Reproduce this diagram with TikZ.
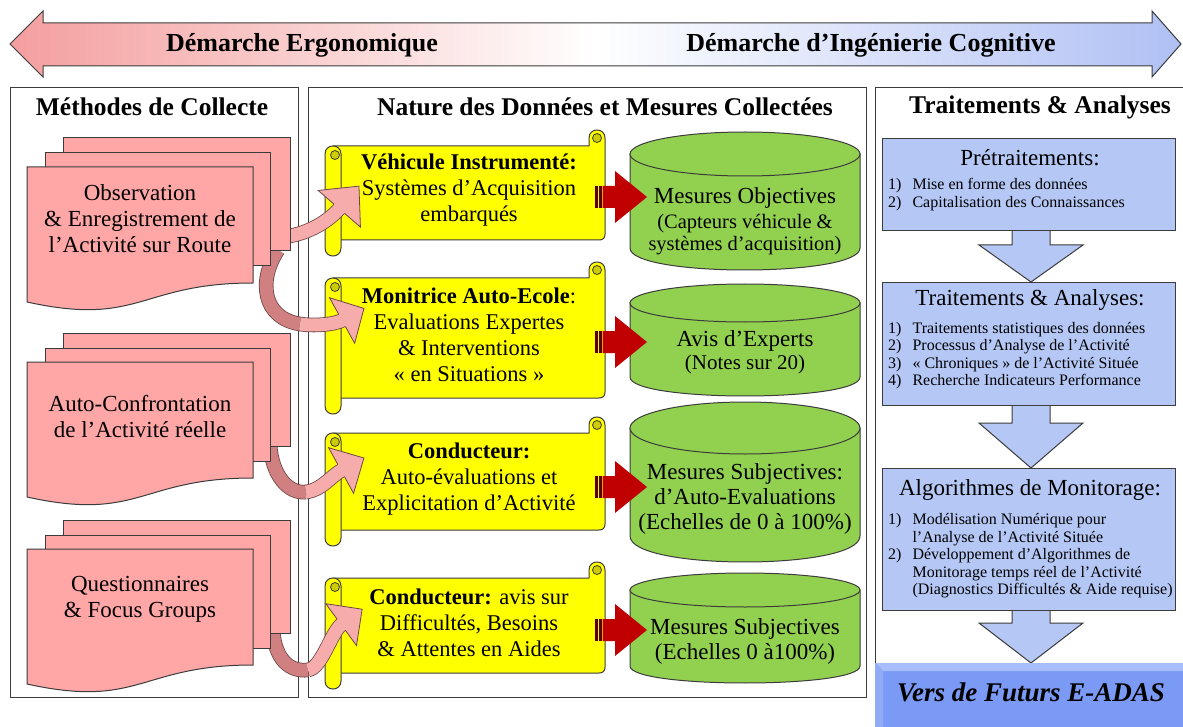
\documentclass[tikz,border=0pt]{standalone}
\usepackage{fontspec}
\setmainfont{Liberation Serif}
\usetikzlibrary{decorations.markings}
\definecolor{docpink}{RGB}{255,166,166}
\definecolor{arrpink}{RGB}{247,172,172}
\definecolor{darkpink}{RGB}{208,128,128}
\definecolor{arrline}{RGB}{110,70,70}
\definecolor{scrollyellow}{RGB}{255,255,0}
\definecolor{curlyellow}{RGB}{204,204,0}
\definecolor{cylgreen}{RGB}{146,208,80}
\definecolor{boxblue}{RGB}{180,199,245}
\definecolor{adasblue}{RGB}{122,154,245}
\definecolor{adaslight}{RGB}{168,190,250}
\definecolor{adasmid}{RGB}{145,172,247}
\definecolor{redarr}{RGB}{192,0,0}
\definecolor{stripe}{RGB}{90,0,0}
\definecolor{linegray}{RGB}{60,60,60}
\definecolor{toppink}{RGB}{244,158,158}
\definecolor{topblue}{RGB}{176,192,244}

\newcommand\docstack[1]{%
  \draw[docst] (63,{#1-29}) rectangle (290,{#1+84});
  \draw[docst] (45,{#1-14}) rectangle (270,{#1+99});
  \draw[docst] (27,#1) -- (253,#1) -- (253,{#1+116}) .. controls (140,{#1+116}) and (140,{#1+160}) .. (27,{#1+135}) -- cycle;
}
\newcommand\scrollshape[2]{%
  \draw[scrollst] (333,#1) -- (589,#1) -- (589,{#1-8}) .. controls (589,{#1-18.7}) and (605,{#1-18.7}) .. (605,{#1-8}) -- (605,{#2-6}) .. controls (605,{#2-2}) and (603,#2) .. (599,#2) -- (333,#2) -- cycle;
  \draw[curlst] (597,{#1-8}) circle (4.5pt);
  \draw[scrollst] (325,{#1+8}) .. controls (325,{#1-2.7}) and (341,{#1-2.7}) .. (341,{#1+8}) -- (341,{#2+8}) .. controls (341,{#2+18.7}) and (325,{#2+18.7}) .. (325,{#2+8}) -- cycle;
  \draw[curlst] (335,{#1+9}) circle (4.5pt);
}
\newcommand\cylshape[3]{%
  \draw[cylst] (630,#1) -- (630,#2) .. controls (630,{#2+1.333*#3}) and (860,{#2+1.333*#3}) .. (860,#2) -- (860,#1) -- cycle;
  \draw[cylst] (745,#1) ellipse [x radius=115pt, y radius=#3pt];
}
\newcommand\redarrow[1]{%
  \fill[stripe] (595,{#1-11}) rectangle (597.5,{#1+11});
  \fill[stripe] (598.5,{#1-11}) rectangle (601.5,{#1+11});
  \fill[redarr] (602.5,{#1-11}) -- (615,{#1-11}) -- (615,{#1-26}) -- (647,#1) -- (615,{#1+26}) -- (615,{#1+11}) -- (602.5,{#1+11}) -- cycle;
}
\newcommand\bluearrow[3]{%
  \draw[downarr] (1012,#1) -- (1012,#2) -- (979,#2) -- (1031,#3) -- (1083,#2) -- (1050,#2) -- (1050,#1);
}
\newcommand\arrhead[2]{\path[draw=arrline, fill=arrpink, line width=0.8pt] (-1,-7) -- (-1,-#1) -- (#2,0) -- (-1,#1) -- (-1,7);}

\tikzset{
  panel/.style={draw=linegray, line width=1.2pt, fill=white, inner sep=0pt, anchor=north west},
  ptitle/.style={font=\fontsize{25.5}{30}\selectfont\bfseries, inner sep=0pt},
  toptext/.style={font=\fontsize{26}{30}\selectfont\bfseries, inner sep=0pt},
  docst/.style={draw=linegray, line width=1pt, fill=docpink},
  doctext/.style={font=\fontsize{23}{26}\selectfont, align=center, inner sep=0pt},
  scrollst/.style={draw=linegray, line width=1pt, fill=scrollyellow, line join=round},
  curlst/.style={draw=linegray, line width=0.8pt, fill=curlyellow},
  scrolltext/.style={font=\fontsize{22.5}{26}\selectfont, align=center, inner sep=0pt},
  cylst/.style={draw=linegray, line width=1pt, fill=cylgreen},
  cyltext/.style={font=\fontsize{23}{25}\selectfont, align=center, inner sep=0pt},
  bandst/.style={draw=arrline, line width=0.8pt, double distance=13pt},
  headmark/.style 2 args={decorate, decoration={markings, mark=at position 0.999 with {\arrhead{#1}{#2}}}},
  bluebox/.style={draw=linegray, line width=1pt, fill=boxblue, inner sep=0pt, anchor=north west},
  btitle/.style={font=\fontsize{23}{26}\selectfont, inner sep=0pt},
  blist/.style={font=\fontsize{16}{17.5}\selectfont, inner sep=0pt, anchor=west, align=left},
  downarr/.style={draw=linegray, line width=1pt, fill=boxblue},
}

\begin{document}
\begin{tikzpicture}[x=1pt,y=-1pt]
\useasboundingbox (0,0) rectangle (1183,727);

% top double arrow
\shadedraw[left color=toppink, right color=topblue, middle color=white, draw=linegray, line width=1pt]
  (10,44) -- (43,11) -- (43,23) -- (1152,23) -- (1152,11) -- (1181,44) -- (1152,77) -- (1152,66) -- (43,66) -- (43,77) -- cycle;
\node[toptext] (tl) at (302,45) {Démarche Ergonomique};
\node[toptext] (tr) at (871,45) {Démarche d’Ingénierie Cognitive};

% panels
\node[panel, minimum width=288pt, minimum height=610pt] (p1) at (10,87) {};
\node[panel, minimum width=558pt, minimum height=610pt] (p2) at (308,87) {};
\node[panel, minimum width=320pt, minimum height=610pt] (p3) at (875,87) {};
\node[ptitle] (pt1) at (152,107) {Méthodes de Collecte};
\node[ptitle] (pt2) at (605,107) {Nature des Données et Mesures Collectées};
\node[ptitle] (pt3) at (1040,107) {Traitements \& Analyses};

% scrolls
\scrollshape{146}{240}
\scrollshape{278}{398}
\scrollshape{433}{530}
\scrollshape{578}{673}

% cylinders
\cylshape{154}{248}{22}
\cylshape{303}{377}{19}
\cylshape{428}{536}{26}
\cylshape{590}{666}{17}

% red arrows
\redarrow{197}
\redarrow{342}
\redarrow{487}
\redarrow{630}

% curved arrows
\draw[bandst, double=arrpink] (282,237) .. controls (305,235) and (327,223) .. (340,208);
\path[headmark={28}{29}] (282,237) .. controls (305,235) and (327,223) .. (340,208);

\draw[bandst, double=darkpink] (278,250) .. controls (258,280) and (262,318) .. (300,324);
\draw[bandst, double=arrpink] (300,324) .. controls (312,326) and (334,325) .. (343,320);
\path[headmark={26}{24}] (300,324) .. controls (312,326) and (334,325) .. (343,320);

\draw[bandst, double=darkpink] (270,445) .. controls (272,475) and (288,494) .. (306,492);
\draw[bandst, double=arrpink] (306,492) .. controls (322,490) and (331,476) .. (342,470);
\path[headmark={26}{25}] (306,492) .. controls (322,490) and (331,476) .. (342,470);

\draw[bandst, double=darkpink] (273,630) .. controls (275,660) and (290,672) .. (308,670);
\draw[bandst, double=arrpink] (308,670) .. controls (322,668) and (331,632) .. (342,624);
\path[headmark={26}{25}] (308,670) .. controls (322,668) and (331,632) .. (342,624);

% document stacks
\docstack{167}
\docstack{362}
\docstack{549}

% texts left & middle
\node[doctext] (dt1) at (140,219) {Observation\\\& Enregistrement de\\l’Activité sur Route};
\node[doctext] (dt2) at (140,417) {Auto-Confrontation\\de l’Activité réelle};
\node[doctext] (dt3) at (140,599) {Questionnaires\\\& Focus Groups};

\node[scrolltext] (st1) at (469,190) {\textbf{Véhicule Instrumenté:}\\Systèmes d’Acquisition\\embarqués};
\node[scrolltext] (st2) at (469,335) {\textbf{Monitrice Auto-Ecole}:\\Evaluations Expertes\\\& Interventions\\« en Situations »};
\node[scrolltext] (st3) at (469,479) {\textbf{Conducteur:}\\Auto-évaluations et\\Explicitation d’Activité};
\node[scrolltext] (st4) at (469,623) {\textbf{Conducteur:} avis sur\\Difficultés, Besoins\\\& Attentes en Aides};

\node[cyltext, font=\fontsize{20.5}{22}\selectfont] (ct1) at (745,221) {{\fontsize{23}{25}\selectfont Mesures Objectives}\\[3pt](Capteurs véhicule \&\\systèmes d’acquisition)};
\node[cyltext, font=\fontsize{21}{23}\selectfont] (ct2) at (745,352) {{\fontsize{23}{25}\selectfont Avis d’Experts}\\(Notes sur 20)};
\node[cyltext] (ct3) at (745,499) {Mesures Subjectives:\\d’Auto-Evaluations\\(Echelles de 0 à 100\%)};
\node[cyltext] (ct4) at (745,641) {Mesures Subjectives\\(Echelles 0 à100\%)};

% right panel
\bluearrow{230}{245}{282}
\bluearrow{405}{423}{468}
\bluearrow{610}{623}{663}
\node[bluebox, minimum width=293pt, minimum height=92pt] (b1) at (882,138) {};
\node[bluebox, minimum width=293pt, minimum height=123pt] (b2) at (882,282) {};
\node[bluebox, minimum width=293pt, minimum height=142pt] (b3) at (882,468) {};

\node[btitle] (bt1) at (1030,158) {Prétraitements:};
\node[blist] (bl1) at (888,195) {\begin{tabular}{@{}l@{\hspace{11pt}}l@{}}1) & Mise en forme des données\\ 2) & Capitalisation des Connaissances\end{tabular}};
\node[btitle] (bt2) at (1030,300) {Traitements \& Analyses:};
\node[blist] (bl2) at (888,356) {\begin{tabular}{@{}l@{\hspace{11pt}}l@{}}1) & Traitements statistiques des données\\ 2) & Processus d’Analyse de l’Activité\\ 3) & « Chroniques » de l’Activité Située\\ 4) & Recherche Indicateurs Performance\end{tabular}};
\node[btitle] (bt3) at (1030,490) {Algorithmes de Monitorage:};
\node[blist] (bl3) at (888,556) {\begin{tabular}{@{}l@{\hspace{11pt}}l@{}}1) & Modélisation Numérique pour\\ & l’Analyse de l’Activité Située\\ 2) & Développement d’Algorithmes de\\ & Monitorage temps réel de l’Activité\\ & (Diagnostics Difficultés \& Aide requise)\end{tabular}};

% E-ADAS box
\fill[adasblue] (875,663) rectangle (1195,735);
\fill[adaslight] (875,663) -- (1195,663) -- (1195,671) -- (883,671) -- cycle;
\fill[adasmid] (875,663) -- (883,671) -- (883,735) -- (875,735) -- cycle;
\node[font=\fontsize{27}{30}\selectfont\bfseries\itshape, inner sep=0pt] (adas) at (1031,692) {Vers de Futurs E-ADAS};
\end{tikzpicture}
\end{document}
